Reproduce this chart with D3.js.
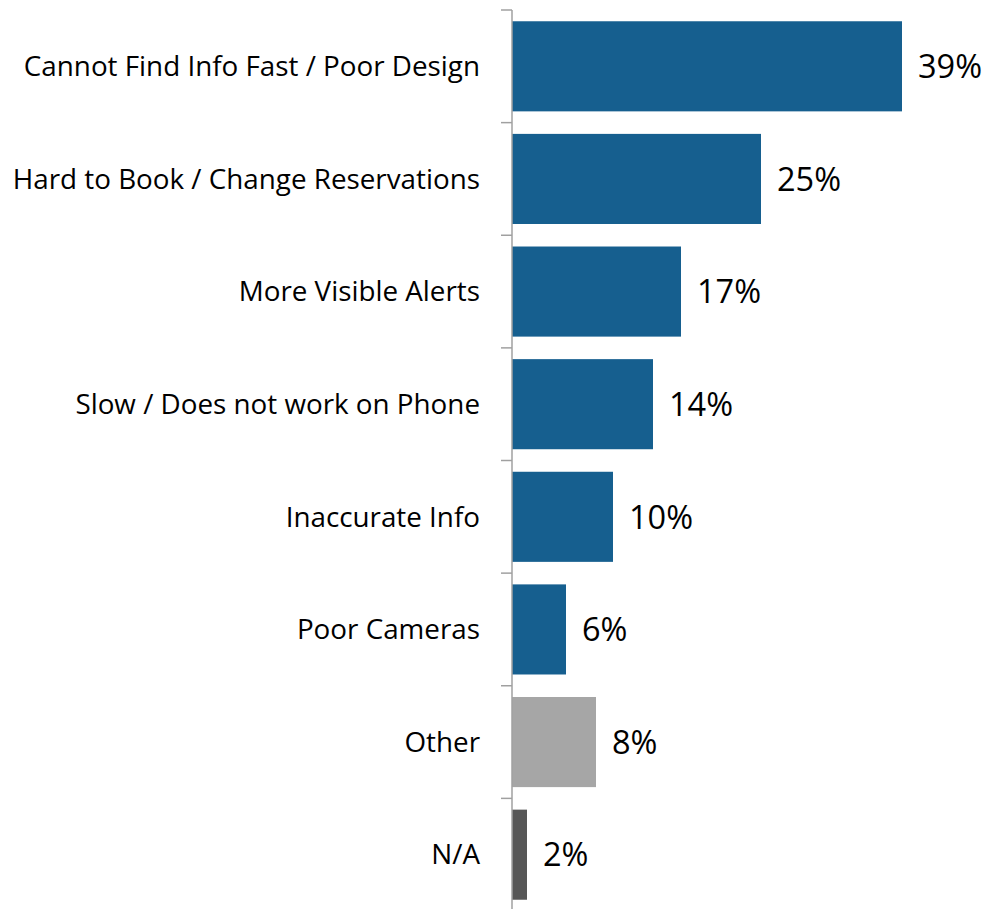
<!DOCTYPE html>
<html>
<head>
<meta charset="utf-8">
<script src="https://cdn.jsdelivr.net/npm/d3@7"></script>
<style>
  html, body { margin: 0; padding: 0; background: #ffffff; }
  svg { display: block; }
</style>
</head>
<body>
<svg id="chart" width="987" height="909"></svg>
<script>
const categories = [
  "Cannot Find Info Fast / Poor Design",
  "Hard to Book / Change Reservations",
  "More Visible Alerts",
  "Slow / Does not work on Phone",
  "Inaccurate Info",
  "Poor Cameras",
  "Other",
  "N/A"
];
const values = [39, 24.9, 16.9, 14.1, 10.1, 5.4, 8.4, 1.5];
const valueLabels = ["39%", "25%", "17%", "14%", "10%", "6%", "8%", "2%"];
const barColors = ["#165f8f", "#165f8f", "#165f8f", "#165f8f", "#165f8f", "#165f8f", "#a6a6a6", "#575757"];

const svg = d3.select("#chart");
const FONT = "'Open Sans', 'DejaVu Sans', sans-serif";

const y = d3.scaleBand()
  .domain(categories)
  .range([10, 911])
  .paddingInner(0.2)
  .paddingOuter(0.1);

const x = d3.scaleLinear()
  .domain([0, 39])
  .range([512, 902]);

// bars
svg.append("g").selectAll("rect")
  .data(categories)
  .join("rect")
  .attr("x", x(0))
  .attr("y", d => y(d))
  .attr("width", (d, i) => x(values[i]) - x(0))
  .attr("height", y.bandwidth())
  .attr("fill", (d, i) => barColors[i]);

// axis line + ticks at band boundaries
const step = y.step();
const boundaries = categories.map(c => y(c) - step * y.paddingOuter());
boundaries.push(y(categories[categories.length - 1]) + y.bandwidth() + step * y.paddingOuter());

const axisG = svg.append("g");
axisG.append("line")
  .attr("x1", x(0)).attr("x2", x(0))
  .attr("y1", boundaries[0]).attr("y2", 909)
  .attr("stroke", "#a0a0a0").attr("stroke-width", 1.5);
axisG.selectAll("line.tick")
  .data(boundaries)
  .join("line")
  .attr("class", "tick")
  .attr("x1", x(0) - 11).attr("x2", x(0))
  .attr("y1", d => d).attr("y2", d => d)
  .attr("stroke", "#a0a0a0").attr("stroke-width", 1.5);

// category labels
svg.append("g").selectAll("text")
  .data(categories)
  .join("text")
  .attr("x", 480)
  .attr("y", d => y(d) + y.bandwidth() / 2)
  .attr("dy", "0.35em")
  .attr("text-anchor", "end")
  .attr("font-family", FONT)
  .attr("font-size", 27.8)
  .attr("fill", "#000")
  .text(d => d);

// value labels
svg.append("g").selectAll("text")
  .data(categories)
  .join("text")
  .attr("x", (d, i) => x(values[i]) + 16)
  .attr("y", d => y(d) + y.bandwidth() / 2)
  .attr("dy", "0.36em")
  .attr("font-family", FONT)
  .attr("font-size", 32.5)
  .attr("fill", "#000")
  .text((d, i) => valueLabels[i]);
</script>
</body>
</html>
